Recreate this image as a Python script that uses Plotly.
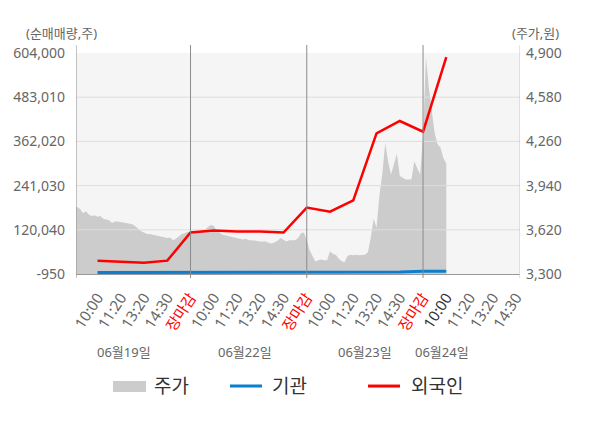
import plotly.graph_objects as go

# --- data ------------------------------------------------------------------
# x tick slots: 1..19 (per day 10:00, 11:20, 13:20, 14:30, 장마감)
tick_text = [
    "10:00", "11:20", "13:20", "14:30", "장마감",
    "10:00", "11:20", "13:20", "14:30", "장마감",
    "10:00", "11:20", "13:20", "14:30", "장마감",
    "10:00", "11:20", "13:20", "14:30",
]
day_labels = ["06월19일", "06월22일", "06월23일", "06월24일"]

# net buying (주) at slots 1..16
foreign = [35600, 33200, 30100, 35600, 112600, 118100, 115400, 115400,
           112600, 181000, 169600, 200600, 384000, 417900, 388700, 593000]
institution = [3000, 3000, 3000, 3000, 3000, 3000, 3000, 3000,
               3000, 3000, 3000, 3000, 3000, 4500, 6500, 6500]

# intraday price (원), sampled 8 per slot
price_d1 = [3785, 3785, 3770, 3740, 3755, 3730, 3720, 3725, 3715, 3720,
            3700, 3695, 3690, 3670, 3680, 3680, 3675, 3670, 3665, 3660,
            3660, 3645, 3625, 3610, 3600, 3590, 3590, 3585, 3575, 3570,
            3570, 3565, 3560, 3565, 3545, 3555, 3570, 3590, 3595, 3605]
price_d2 = [3595, 3600, 3600, 3605, 3615, 3620, 3640, 3655, 3650, 3615,
            3600, 3585, 3580, 3575, 3570, 3560, 3560, 3555, 3550, 3555,
            3545, 3545, 3540, 3540, 3535, 3535, 3535, 3525, 3520, 3530,
            3540, 3560, 3550, 3535, 3545, 3545, 3545, 3560, 3595, 3600]
price_d3 = [3545, 3470, 3425, 3390, 3400, 3405, 3400, 3400, 3465, 3445,
            3440, 3410, 3395, 3385, 3430, 3440, 3435, 3440, 3435, 3440,
            3440, 3455, 3560, 3700, 3635, 3870, 4030, 4250, 4110, 4020,
            4100, 4170, 4010, 4000, 3985, 3985, 3985, 4115, 4060, 4020]
price_d4 = [4300, 4870, 4650, 4480, 4320, 4240, 4215, 4140, 4100]

vol_ticks = [-950, 120040, 241030, 362020, 483010, 604000]
price_ticks = [3300, 3620, 3940, 4260, 4580, 4900]

# --- layout helpers --------------------------------------------------------
X_RANGE = [0.075, 19.17]
FONT = "Noto Sans, Noto Sans CJK KR, sans-serif"
STEP = 0.125
# the page body has an 8px margin, so the figure is drawn 8px smaller
W, H, PAD = 600, 428, 8

price_x, price_y = [], []
for d, series in enumerate([price_d1, price_d2, price_d3, price_d4]):
    for j, v in enumerate(series):
        price_x.append(d * 5 + j * STEP)
        price_y.append(v)

slots = list(range(1, len(foreign) + 1))

colored_ticks = []
for k, t in enumerate(tick_text):
    if t == "장마감":
        colored_ticks.append(f"<span style='color:#ff0000'>{t}</span>")
    elif k == 15:
        colored_ticks.append(f"<span style='color:#333333'>{t}</span>")
    else:
        colored_ticks.append(t)

grid_x, grid_y = [], []
for v in vol_ticks[1:-1]:
    grid_x += [X_RANGE[0], X_RANGE[1], None]
    grid_y += [v, v, None]

fig = go.Figure()

fig.add_trace(go.Scatter(
    x=price_x, y=price_y, yaxis="y", mode="lines",
    line=dict(width=0, color="#cccccc"), fill="tozeroy", fillcolor="#cccccc",
    name="주가", showlegend=False, hoverinfo="skip",
))
fig.add_trace(go.Scatter(
    x=grid_x, y=grid_y, yaxis="y2", mode="lines",
    line=dict(width=1, color="#dedede"), showlegend=False, hoverinfo="skip",
))
fig.add_trace(go.Scatter(
    x=slots, y=institution, yaxis="y2", mode="lines",
    line=dict(width=3, color="#0b7fcf"), name="기관", showlegend=False,
))
fig.add_trace(go.Scatter(
    x=slots, y=foreign, yaxis="y2", mode="lines",
    line=dict(width=2.5, color="#ff0000"), name="외국인", showlegend=False,
))

shapes = []
# axis frame + day separators (extend a bit above and below the plot)
for xv, col in [(X_RANGE[0], "#8c8c8c"), (5, "#8c8c8c"), (10, "#8c8c8c"),
                (15, "#8c8c8c"), (X_RANGE[1], "#c8c8c8")]:
    shapes.append(dict(type="line", xref="x", yref="paper", x0=xv, x1=xv,
                       y0=-0.018, y1=1.036, line=dict(color=col, width=1)))

# manual legend
shapes.append(dict(type="rect", xref="paper", yref="paper", x0=0.0833, x1=0.1577,
                   y0=-0.534, y1=-0.484, fillcolor="#cccccc", line=dict(width=0)))
shapes.append(dict(type="line", xref="paper", yref="paper", x0=0.3468, x1=0.4189,
                   y0=-0.507, y1=-0.507, line=dict(color="#0b7fcf", width=3)))
shapes.append(dict(type="line", xref="paper", yref="paper", x0=0.6577, x1=0.7297,
                   y0=-0.507, y1=-0.507, line=dict(color="#ff0000", width=3)))

annotations = [
    dict(text="(순매매량,주)", xref="paper", yref="paper", x=-0.0327, y=1.0905,
         xanchor="center", yanchor="middle", showarrow=False,
         font=dict(size=13, color="#666666", family=FONT)),
    dict(text="(주가,원)", xref="paper", yref="paper", x=1.035, y=1.0905,
         xanchor="center", yanchor="middle", showarrow=False,
         font=dict(size=13, color="#666666", family=FONT)),
]
for xv, lab in zip([2.15, 7.35, 12.5, 15.8], day_labels):
    annotations.append(dict(text=lab, xref="x", yref="paper", x=xv, y=-0.353,
                            xanchor="center", yanchor="middle", showarrow=False,
                            font=dict(size=13, color="#666666", family=FONT)))
for xv, lab in [(0.1712, "주가"), (0.4369, "기관"), (0.75, "외국인")]:
    annotations.append(dict(text=lab, xref="paper", yref="paper", x=xv, y=-0.507,
                            xanchor="left", yanchor="middle", showarrow=False,
                            font=dict(size=19, color="#333333", family=FONT)))

fig.update_layout(
    width=W - PAD,
    height=H - PAD,
    margin=dict(l=76 - PAD, r=80, t=53 - PAD, b=154),
    paper_bgcolor="#ffffff",
    plot_bgcolor="#f5f5f5",
    font=dict(family=FONT, color="#666666"),
    showlegend=False,
    shapes=shapes,
    annotations=annotations,
    xaxis=dict(
        range=X_RANGE, showgrid=False, zeroline=False, automargin=False,
        showline=True, linecolor="#999999", linewidth=1,
        tickmode="array", tickvals=list(range(1, 20)), ticktext=colored_ticks,
        tickangle=-57, tickfont=dict(size=15, color="#666666", family=FONT),
        ticks="", ticklabelstandoff=8,
    ),
    yaxis=dict(
        side="right", range=[price_ticks[0], price_ticks[-1]], automargin=False,
        showgrid=False, zeroline=False, showline=False,
        tickmode="array", tickvals=price_ticks,
        ticktext=[f"{v:,}" for v in price_ticks],
        tickfont=dict(size=14, color="#666666", family=FONT),
        ticks="", ticklabelstandoff=5,
    ),
    yaxis2=dict(
        overlaying="y", side="left", range=[vol_ticks[0], vol_ticks[-1]],
        automargin=False,
        showgrid=False, zeroline=True, zerolinecolor="#999999", zerolinewidth=1,
        showline=False,
        tickmode="array", tickvals=vol_ticks,
        ticktext=[f"{v:,}" for v in vol_ticks],
        tickfont=dict(size=14, color="#666666", family=FONT),
        ticks="", ticklabelstandoff=10,
    ),
)

fig.write_html("out.html")
